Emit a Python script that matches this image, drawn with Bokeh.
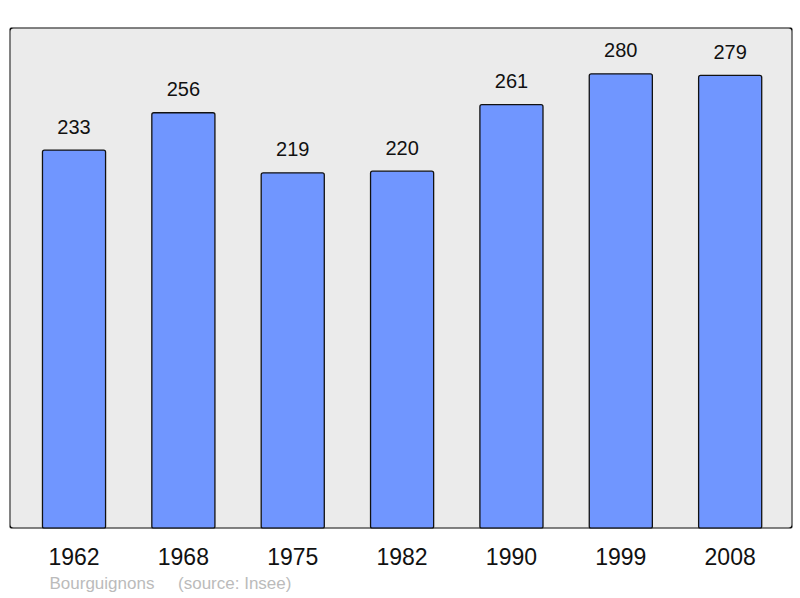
from bokeh.plotting import figure
from bokeh.models import Range1d, FixedTicker, Title, ColumnDataSource, BoxAnnotation
from bokeh.core.properties import value
from bokeh.embed import file_html
from bokeh.resources import INLINE

years = ["1962", "1968", "1975", "1982", "1990", "1999", "2008"]
population = [233, 256, 219, 220, 261, 280, 279]
footer = "Bourguignons\u00a0\u00a0\u00a0\u00a0\u00a0(source: Insee)"

idx = list(range(len(years)))
src = ColumnDataSource(dict(x=idx, top=population, lab=[str(v) for v in population]))

p = figure(width=800, height=598, output_backend="svg", toolbar_location=None,
           x_range=Range1d(-0.59, 6.57), y_range=Range1d(0, 308.5),
           min_border_left=9, min_border_right=8, min_border_top=27, min_border_bottom=70)
p.background_fill_color = "#ebebeb"
p.border_fill_color = "white"
p.outline_line_color = None
p.grid.visible = False
p.yaxis.visible = False

p.vbar(x="x", top="top", bottom=0, width=0.577, source=src,
       fill_color="#7096ff", line_color="#111111", line_width=1.3, border_radius=2)
p.text(x="x", y="top", text="lab", source=src, y_offset=-16.5,
       text_align="center", text_baseline="bottom", text_color="#111111",
       text_font=value("Liberation Sans"), text_font_size="20px")

p.add_layout(BoxAnnotation(fill_color=None, fill_alpha=0, line_color="#111111",
                           line_alpha=1.0, line_width=2, border_radius=4,
                           level="overlay"))

ax = p.xaxis[0]
ax.ticker = FixedTicker(ticks=idx)
ax.major_label_overrides = {i: y for i, y in zip(idx, years)}
ax.axis_line_color = None
ax.major_tick_line_color = None
ax.minor_tick_line_color = None
ax.major_label_standoff = 13
ax.major_label_text_font = "Liberation Sans"
ax.major_label_text_font_size = "23px"
ax.major_label_text_color = "#111111"

p.add_layout(Title(text=footer, align="left", offset=40, standoff=8,
                   text_font="Liberation Sans", text_font_size="17px",
                   text_font_style="normal", text_color="#bbbbbb"), "below")

open("out.html", "w").write(file_html(p, INLINE))
